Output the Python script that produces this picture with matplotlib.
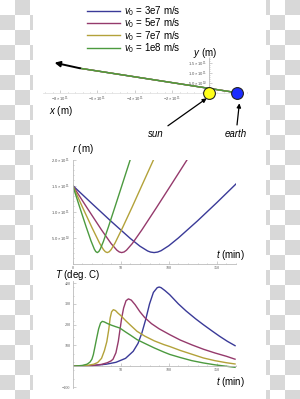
import matplotlib
matplotlib.use('Agg')
import numpy as np
import matplotlib.pyplot as plt
from matplotlib.patches import Rectangle
from matplotlib.lines import Line2D
from matplotlib.ticker import AutoMinorLocator

plt.rcParams['font.family'] = ['Liberation Sans', 'DejaVu Sans']
plt.rcParams['mathtext.fontset'] = 'custom'
plt.rcParams['mathtext.rm'] = 'Liberation Sans'
plt.rcParams['mathtext.it'] = 'Liberation Sans:italic'

W, H = 300, 399

speeds = ['3e7', '5e7', '7e7', '1e8']
colors = ['#3a3a98', '#953a6c', '#b3a23a', '#4c9a3f']

# trajectory (units of 1e11 m) - all four overlap, straight line from earth
path_x = [1.47, -6.93]
path_y = [0.0, 1.22]
arrow_tip = (-8.3, 1.5)
sun_pos = (0.0, 0.0)
earth_pos = (1.47, 0.0)

# r(t), r in units of 1e11 m, t in minutes
t_r = [
    [0, 20, 40, 60, 70, 78, 81, 84.7, 88.4, 92, 100, 110, 130, 150, 170],
    [0, 15, 30, 40, 46, 48.5, 51, 53.5, 56, 62, 72, 87, 102, 121],
    [0, 10, 20, 28, 32, 34, 36, 38, 40, 44, 52, 62, 72, 85],
    [0, 7, 14, 19, 22.5, 24, 25.6, 27.2, 28.7, 32, 37, 44, 52, 61],
]
r_vals = [
    [1.50, 1.153, 0.811, 0.481, 0.333, 0.241, 0.22, 0.21, 0.22, 0.246, 0.341, 0.491, 0.821, 1.17, 1.53],
    [1.50, 1.069, 0.646, 0.383, 0.256, 0.222, 0.21, 0.222, 0.256, 0.383, 0.646, 1.069, 1.50, 2.05],
    [1.50, 1.09, 0.693, 0.391, 0.267, 0.226, 0.21, 0.226, 0.267, 0.391, 0.693, 1.09, 1.50, 2.03],
    [1.50, 1.099, 0.705, 0.437, 0.277, 0.230, 0.21, 0.230, 0.277, 0.426, 0.694, 1.088, 1.545, 2.06],
]

# T(t) in deg C
t_T = [
    [0, 20, 35, 45, 55, 63, 68, 72, 76, 80, 84, 88, 90, 92, 96, 101, 110, 118, 128, 136, 145, 153, 161, 169],
    [0, 20, 30, 36, 40, 42, 45, 47.5, 49.5, 51, 53, 55.5, 58, 61, 65, 70, 75, 82, 90, 101, 112, 124, 136, 148, 160, 169],
    [0, 15, 22, 26, 30, 33, 35.5, 37.5, 39, 40.5, 42.3, 44.5, 47, 50, 55, 60, 67, 75, 85, 95, 101, 112, 124, 136, 148, 160, 169],
    [0, 10, 15, 18, 20, 21.5, 23, 25, 27, 29, 30.8, 33, 36, 40, 45, 49, 55, 60, 67, 75, 85, 95, 101, 112, 124, 136, 148, 160, 169],
]
T_vals = [
    [0, 3, 10, 19, 38, 72, 110, 160, 225, 300, 355, 378, 381, 378, 364, 344, 300, 266, 228, 200, 170, 144, 120, 99],
    [0, 3, 9, 17, 26, 34, 65, 120, 185, 232, 280, 315, 324, 318, 296, 262, 234, 205, 180, 152, 126, 103, 82, 64, 48, 34],
    [0, 4, 10, 18, 38, 75, 118, 175, 232, 262, 272, 268, 256, 244, 220, 198, 168, 145, 122, 104, 95, 76, 58, 40, 27, 17, 11],
    [0, 4, 10, 20, 34, 56, 90, 136, 180, 208, 216, 213, 206, 198, 190, 184, 165, 150, 128, 110, 88, 68, 57, 42, 27, 16, 7, 0, -5],
]

r_ticks = [0.5, 1.0, 1.5, 2.0]
r_ticklabels = [r'$5.0\times10^{10}$', r'$1.0\times10^{11}$', r'$1.5\times10^{11}$', r'$2.0\times10^{11}$']
t_ticks = [0, 50, 100, 150]
T_ticks = [-100, 100, 200, 300, 400]
x_ticks = [-8, -6, -4, -2]
x_ticklabels = [r'$-8\times10^{11}$', r'$-6\times10^{11}$', r'$-4\times10^{11}$', r'$-2\times10^{11}$']
y_ticks = [0.5, 1.0, 1.5]
y_ticklabels = [r'$5.0\times10^{10}$', r'$1.0\times10^{11}$', r'$1.5\times10^{11}$']

fig = plt.figure(figsize=(W / 100, H / 100), dpi=100)


def px_axes(x0, y0, x1, y1, **kw):
    return fig.add_axes([x0 / W, 1 - y1 / H, (x1 - x0) / W, (y1 - y0) / H], **kw)


# checkerboard background (transparent-image look)
bg = px_axes(0, 0, W, H, zorder=-10)
bg.set_xlim(0, W)
bg.set_ylim(H, 0)
bg.axis('off')
for row in range(27):
    for col in range(20):
        if (row + col) % 2 == 1:
            x0, x1 = col * 15, col * 15 + 15
            if x1 <= 33 or x0 >= 266:
                bg.add_patch(Rectangle((x0, row * 15), 15, 15, color='#d8d8d8', lw=0))
            elif x0 < 33:
                bg.add_patch(Rectangle((x0, row * 15), 33 - x0, 15, color='#d8d8d8', lw=0))
            elif x1 > 266:
                bg.add_patch(Rectangle((266, row * 15), x1 - 266, 15, color='#d8d8d8', lw=0))

axis_col = '#bbbbbb'


def style(ax):
    for s in ['top', 'right']:
        ax.spines[s].set_visible(False)
    for s in ['left', 'bottom']:
        ax.spines[s].set_color(axis_col)
        ax.spines[s].set_linewidth(0.6)
    ax.patch.set_alpha(0)
    ax.tick_params(which='both', direction='in', colors=axis_col, labelcolor='#555555',
                   labelsize=3, width=0.5, pad=1.5)
    ax.tick_params(which='major', length=2)
    ax.tick_params(which='minor', length=1)
    for lbl in ax.get_xticklabels() + ax.get_yticklabels():
        lbl.set_family('Liberation Serif')


# top panel: trajectory
ax0 = px_axes(40, 50, 250, 100)
ax0.set_xlim(-9.08, 2.18)
ax0.set_ylim(-0.365, 2.135)
for c in colors:
    ax0.plot(path_x, path_y, color=c, lw=1.0)
ax0.annotate('', xy=arrow_tip, xytext=(path_x[1], path_y[1]),
             arrowprops=dict(arrowstyle='-|>', color='black', lw=1.4, mutation_scale=8, shrinkA=0, shrinkB=0))
ax0.spines['left'].set_position(('data', 0))
ax0.spines['bottom'].set_position(('data', 0))
ax0.spines['left'].set_bounds(0, 1.75)
ax0.spines['bottom'].set_bounds(-8.9, 1.3)
ax0.set_xticks(x_ticks, x_ticklabels)
ax0.set_yticks(y_ticks, y_ticklabels)
ax0.xaxis.set_minor_locator(AutoMinorLocator(5))
ax0.yaxis.set_minor_locator(AutoMinorLocator(5))
style(ax0)
ax0.spines['bottom'].set_color('#e2e2e2')
ax0.plot(*sun_pos, 'o', ms=8.5, mfc='#ffff1a', mec='#222222', mew=0.8, zorder=5)
ax0.plot(*earth_pos, 'o', ms=8.5, mfc='#1c2cff', mec='#222222', mew=0.8, zorder=5)
ax0.annotate('sun', xy=(-0.14, -0.28), xytext=(-2.85, -2.07), ha='center', va='center',
             fontsize=7, style='italic', annotation_clip=False,
             arrowprops=dict(arrowstyle='-|>', color='black', lw=0.9, mutation_scale=6, shrinkA=1, shrinkB=0))
ax0.annotate('earth', xy=(1.61, -0.53), xytext=(1.43, -2.07), ha='center', va='center',
             fontsize=7, style='italic', annotation_clip=False,
             arrowprops=dict(arrowstyle='-|>', color='black', lw=0.9, mutation_scale=6, shrinkA=1, shrinkB=0))

# middle panel: r(t)
ax1 = px_axes(72.7, 159.5, 236.0, 263.5)
for t, r, c in zip(t_r, r_vals, colors):
    ax1.plot(t, np.array(r), color=c, lw=1.0)
ax1.set_xlim(0, 170)
ax1.set_ylim(0, 2.0)
ax1.set_xticks(t_ticks)
ax1.set_yticks(r_ticks, r_ticklabels)
ax1.xaxis.set_minor_locator(AutoMinorLocator(5))
ax1.yaxis.set_minor_locator(AutoMinorLocator(5))
style(ax1)

# bottom panel: T(t)
ax2 = px_axes(72.7, 281.0, 236.0, 388.1)
for t, T, c in zip(t_T, T_vals, colors):
    ax2.plot(t, T, color=c, lw=1.0)
ax2.set_xlim(0, 170)
ax2.set_ylim(-105, 410)
ax2.spines['bottom'].set_position(('data', 0))
ax2.set_xticks(t_ticks[1:])
ax2.set_yticks(T_ticks)
ax2.xaxis.set_minor_locator(AutoMinorLocator(5))
ax2.yaxis.set_minor_locator(AutoMinorLocator(5))
style(ax2)

# legend
handles = [Line2D([], [], color=c, lw=1.0) for c in colors]
labels = [r'$\mathit{v_0}$ = ' + s + ' m/s' for s in speeds]
fig.legend(handles, labels, loc='upper left', bbox_to_anchor=(87 / W, 1 - 4 / H), frameon=False,
           fontsize=7, handlelength=3.4, handletextpad=0.4, labelspacing=-0.14, borderpad=0,
           borderaxespad=0)


def ftext(x, y, s, **kw):
    fig.text(x / W, 1 - y / H, s, ha='center', va='center', fontsize=7, **kw)


ftext(205, 53, r'$\mathit{y}$ (m)')
ftext(61, 111, r'$\mathit{x}$ (m)')
ftext(82.5, 149, r'$\mathit{r}$ (m)')
ftext(231, 255, r'$\mathit{t}$ (min)')
ftext(78, 275.5, r'$\mathit{T}$ (deg. C)')
ftext(230.5, 382, r'$\mathit{t}$ (min)')

fig.savefig('out.png', dpi=100)
